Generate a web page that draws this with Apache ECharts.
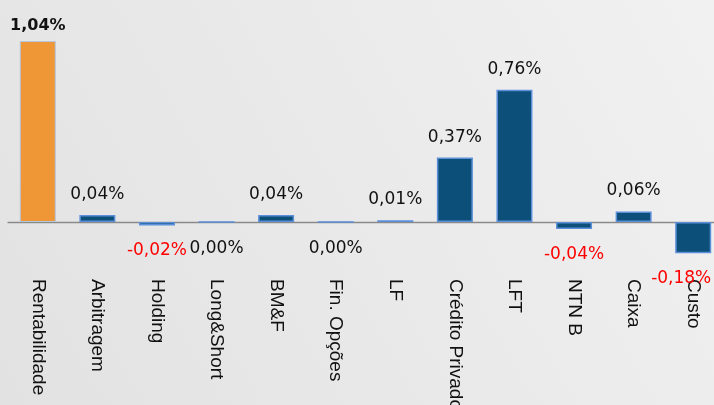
<!DOCTYPE html>
<html>
<head>
<meta charset="utf-8">
<script src="https://cdn.jsdelivr.net/npm/echarts@6/dist/echarts.min.js"></script>
<style>html,body{margin:0;padding:0;}#c{width:714px;height:405px;}</style>
</head>
<body>
<div id="c"></div>
<script>
const categories = ['Rentabilidade','Arbitragem','Holding','Long&Short','BM&F','Fin. Opções','LF','Crédito Privado','LFT','NTN B','Caixa','Custo'];
const values = [1.04, 0.04, -0.02, 0.00, 0.04, 0.00, 0.01, 0.37, 0.76, -0.04, 0.06, -0.18];
const highlightIndex = 0;

const chart = echarts.init(document.getElementById('c'));
const fmt = v => v.toFixed(2).replace('.', ',') + '%';
const data = values.map((v, i) => {
  const isHi = i === highlightIndex;
  const isLast = i === values.length - 1;
  return {
    value: v,
    itemStyle: isHi ? { color: '#ef9637', borderColor: '#b3c7e0', borderWidth: 1 } : {},
    label: {
      position: v > 0 ? 'top' : 'bottom',
      distance: isHi ? 7 : (v > 0 ? 12 : 17),
      offset: isLast ? [-12, 0] : [0, 0],
      color: v < 0 ? '#ff0000' : '#111111',
      fontWeight: isHi ? 'bold' : 'normal',
      fontSize: isHi ? 16 : 17
    }
  };
});

chart.setOption({
  backgroundColor: {
    type: 'linear', x: 0, y: 1, x2: 1, y2: 0,
    colorStops: [{ offset: 0, color: '#e2e2e2' }, { offset: 0.6, color: '#ebebeb' }, { offset: 1, color: '#f1f1f1' }]
  },
  animation: false,
  grid: { left: 8, right: -9, top: 13.2, bottom: 183, containLabel: false, outerBoundsMode: 'none' },
  xAxis: {
    type: 'category',
    data: categories,
    axisTick: { show: false },
    axisLine: { onZero: true, lineStyle: { color: '#8a8a8a', width: 1.3 } },
    axisLabel: {
      rotate: -90,
      margin: 57,
      interval: 0,
      color: '#111111',
      fontFamily: 'Liberation Sans, Arial, sans-serif',
      fontSize: 19
    }
  },
  yAxis: {
    type: 'value',
    min: 0, max: 1.2,
    show: false,
    splitLine: { show: false }
  },
  series: [{
    type: 'bar',
    data: data,
    clip: false,
    barWidth: 36,
    itemStyle: { color: '#0c4f79', borderColor: '#5b8fd9', borderWidth: 1.5 },
    label: {
      show: true,
      fontFamily: 'DejaVu Sans, Verdana, sans-serif',
      formatter: p => fmt(p.value)
    }
  }]
});
</script>
</body>
</html>
